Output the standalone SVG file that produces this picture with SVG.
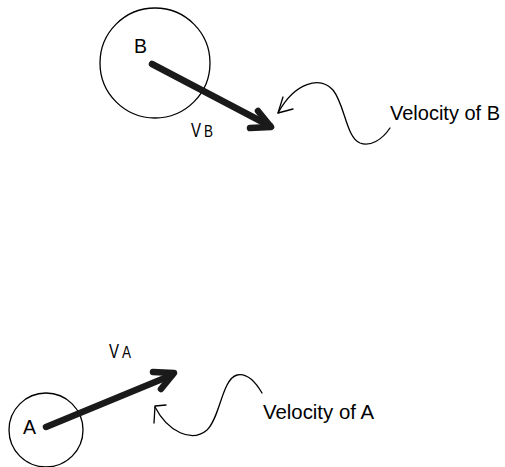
<svg xmlns="http://www.w3.org/2000/svg" width="505" height="467" viewBox="0 0 505 467">
<style>
.body{fill:none;stroke:#000;stroke-width:1.3}
.vec{fill:none;stroke:#1a1a1a;stroke-width:6.5;stroke-linecap:round;stroke-linejoin:round}
.curl{fill:none;stroke:#000;stroke-width:1.3;stroke-linecap:round;stroke-linejoin:round}
text{font-family:"Liberation Sans","DejaVu Sans",sans-serif;fill:#000}
.lbl{font-size:21px}
.big{font-size:21px}
.sub{font-size:16px}
</style>
<rect width="505" height="467" fill="#fff"/>
<g id="nodeB">
<circle class="body" cx="155" cy="63" r="55"/>
<text class="big" x="134" y="53" textLength="13" lengthAdjust="spacingAndGlyphs">B</text>
</g>
<g id="nodeA">
<circle class="body" cx="46" cy="430" r="37"/>
<text class="big" x="23" y="434" textLength="13" lengthAdjust="spacingAndGlyphs">A</text>
</g>
<g id="connectors">
<g id="vecB">
<line class="vec" x1="152" y1="64" x2="270" y2="126"/>
<polyline class="vec" points="258,111 271,127 250,128"/>
</g>
<g id="vecA">
<line class="vec" x1="46" y1="427" x2="172" y2="375"/>
<polyline class="vec" points="153,372 174,373 161,389"/>
</g>
<g id="curlB">
<path class="curl" d="M390,128 C382,140 370,147 360,143 C346,137 345,105 333,90 C320,76 295,82 278,113"/>
<path class="curl" d="M283,97 L278,113 L293,109"/>
</g>
<g id="curlA">
<path class="curl" d="M262,393 C255,381 246,373 237,375 C222,379 220,418 207,430 C192,443 168,432 155,407"/>
<path class="curl" d="M154,423 L155,406 L166,405"/>
</g>
</g>
<g id="labels">
<text class="big" x="191" y="137" textLength="10" lengthAdjust="spacingAndGlyphs">V</text>
<text class="sub" x="204" y="137" textLength="9" lengthAdjust="spacingAndGlyphs">B</text>
<text class="big" x="109" y="358" textLength="10" lengthAdjust="spacingAndGlyphs">V</text>
<text class="sub" x="122" y="358" textLength="9" lengthAdjust="spacingAndGlyphs">A</text>
<text class="lbl" x="390" y="120" textLength="110" lengthAdjust="spacingAndGlyphs">Velocity of B</text>
<text class="lbl" x="263" y="419" textLength="111" lengthAdjust="spacingAndGlyphs">Velocity of A</text>
</g>
</svg>
